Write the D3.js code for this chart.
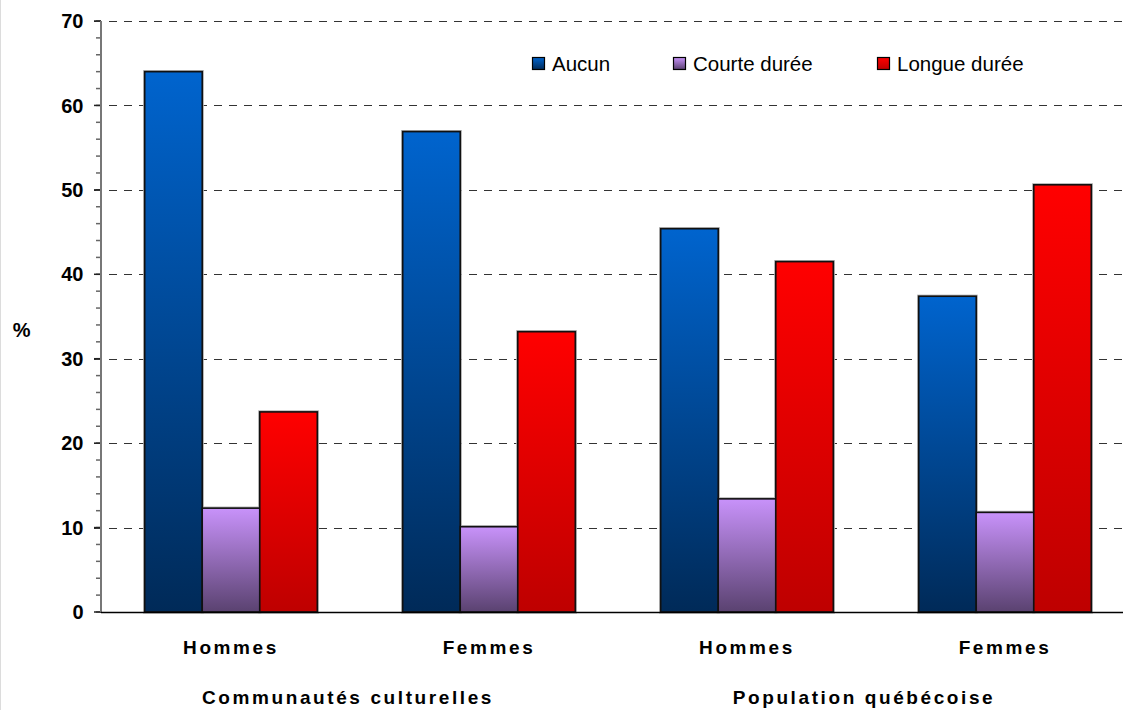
<!DOCTYPE html>
<html>
<head>
<meta charset="utf-8">
<script src="https://cdn.jsdelivr.net/npm/d3@7"></script>
<style>
  html, body { margin: 0; padding: 0; background: #fff; }
  svg { display: block; font-family: "Liberation Sans", Arial, sans-serif; }
</style>
</head>
<body>
<svg id="chart" width="1123" height="710"></svg>
<script>
const groups = ["Communautés culturelles", "Population québécoise"];
const categories = ["Hommes", "Femmes", "Hommes", "Femmes"];
const categoryGroup = [0, 0, 1, 1];
const series = ["Aucun", "Courte durée", "Longue durée"];
const aucun = [64.0, 56.9, 45.4, 37.4];
const courte = [12.3, 10.1, 13.4, 11.8];
const longue = [23.7, 33.2, 41.5, 50.6];
const yTicks = [0, 10, 20, 30, 40, 50, 60, 70];
const seriesValues = [aucun, courte, longue];
const gradTop = ["#0064CE", "#C892FA", "#FF0000"];
const gradBottom = ["#002A58", "#5A4270", "#BE0000"];

const W = 1123, H = 710;
const svg = d3.select("#chart");
const defs = svg.append("defs");
series.forEach((s, i) => {
  const g = defs.append("linearGradient").attr("id", "grad" + i)
    .attr("x1", 0).attr("y1", 0).attr("x2", 0).attr("y2", 1);
  g.append("stop").attr("offset", "0%").attr("stop-color", gradTop[i]);
  g.append("stop").attr("offset", "100%").attr("stop-color", gradBottom[i]);
});

// outer border line on the left
svg.append("line").attr("x1", 0.5).attr("x2", 0.5).attr("y1", 0).attr("y2", H)
  .attr("stroke", "#dcdcdc").attr("stroke-width", 1);

const plotLeft = 101, plotRight = 1134, plotTop = 21, plotBottom = 612;
const y = d3.scaleLinear().domain([0, 70]).range([plotBottom, plotTop]);
const idx = categories.map((c, i) => i);
const x0 = d3.scaleBand().domain(idx).range([plotLeft + 1, plotRight])
  .paddingInner(0.331).paddingOuter(0.1655);
const x1 = d3.scaleBand().domain(series.map((s, i) => i)).range([0, x0.bandwidth()]);

// gridlines
svg.append("g").selectAll("line").data(yTicks.filter(t => t > 0)).join("line")
  .attr("x1", plotLeft - 7).attr("x2", W)
  .attr("y1", d => Math.round(y(d)) + 0.5).attr("y2", d => Math.round(y(d)) + 0.5)
  .attr("stroke", "#333").attr("stroke-width", 1).attr("stroke-dasharray", "8,7");

// bars
const data = [];
idx.forEach(ci => series.forEach((s, si) => data.push({ci, si, v: seriesValues[si][ci]})));
const barG = svg.append("g");
barG.selectAll("rect.sh").data(data).join("rect").attr("class", "sh")
  .attr("x", d => x0(d.ci) + x1(d.si)).attr("width", x1.bandwidth())
  .attr("y", d => y(d.v)).attr("height", d => y(0) - y(d.v))
  .attr("fill", "none").attr("stroke", "#b0b0b0").attr("stroke-width", 3.2);
barG.selectAll("rect.bar").data(data).join("rect").attr("class", "bar")
  .attr("x", d => x0(d.ci) + x1(d.si)).attr("width", x1.bandwidth())
  .attr("y", d => y(d.v)).attr("height", d => y(0) - y(d.v))
  .attr("fill", d => `url(#grad${d.si})`).attr("stroke", "#111").attr("stroke-width", 1.6);

// y axis
const axisG = svg.append("g").attr("transform", `translate(${plotLeft},0)`);
const minor = d3.range(0, 71, 2);
axisG.selectAll("line.minor").data(minor).join("line")
  .attr("x1", -5).attr("x2", 0).attr("y1", d => y(d)).attr("y2", d => y(d))
  .attr("stroke", "#666").attr("stroke-width", 1.5);
axisG.selectAll("line.major").data(yTicks).join("line")
  .attr("x1", -7).attr("x2", 0).attr("y1", d => y(d)).attr("y2", d => y(d))
  .attr("stroke", "#222").attr("stroke-width", 1.5);
axisG.append("line").attr("x1", 0).attr("x2", 0).attr("y1", plotTop).attr("y2", plotBottom)
  .attr("stroke", "#777").attr("stroke-width", 2);
axisG.selectAll("text").data(yTicks).join("text")
  .attr("x", -17.5).attr("y", d => y(d)).attr("dy", "0.36em")
  .attr("text-anchor", "end").attr("font-size", 20).attr("font-weight", "bold")
  .text(d => d);

// x axis baseline
svg.append("line").attr("x1", plotLeft).attr("x2", W).attr("y1", plotBottom + 0.5).attr("y2", plotBottom + 0.5)
  .attr("stroke", "#000").attr("stroke-width", 1.5);

// y label
svg.append("text").attr("x", 21.7).attr("y", 336.5).attr("text-anchor", "middle")
  .attr("font-size", 20).attr("font-weight", "bold").text("%");

// category labels
svg.append("g").selectAll("text").data(idx).join("text")
  .attr("x", d => x0(d) + x0.bandwidth() / 2).attr("y", 653.5)
  .attr("text-anchor", "middle").attr("font-size", 19).attr("font-weight", "bold")
  .attr("letter-spacing", 2.6)
  .text(d => categories[d]);

// group labels
svg.append("g").selectAll("text").data(groups).join("text")
  .attr("x", (g, gi) => {
    const members = idx.filter(i => categoryGroup[i] === gi);
    return d3.mean(members, i => x0(i) + x0.bandwidth() / 2) - 12;
  })
  .attr("y", 703.5).attr("text-anchor", "middle").attr("font-size", 19).attr("font-weight", "bold")
  .attr("letter-spacing", 2.6)
  .text(d => d);

// legend
const legendX = [532, 673, 877];
const lg = svg.append("g");
series.forEach((s, i) => {
  lg.append("rect").attr("x", legendX[i] + 0.5).attr("y", 57.5).attr("width", 12).attr("height", 12)
    .attr("fill", `url(#grad${i})`).attr("stroke", "#000").attr("stroke-width", 1.2);
  lg.append("text").attr("x", legendX[i] + 20).attr("y", 71)
    .attr("font-size", 20.5).text(s);
});
</script>
</body>
</html>
